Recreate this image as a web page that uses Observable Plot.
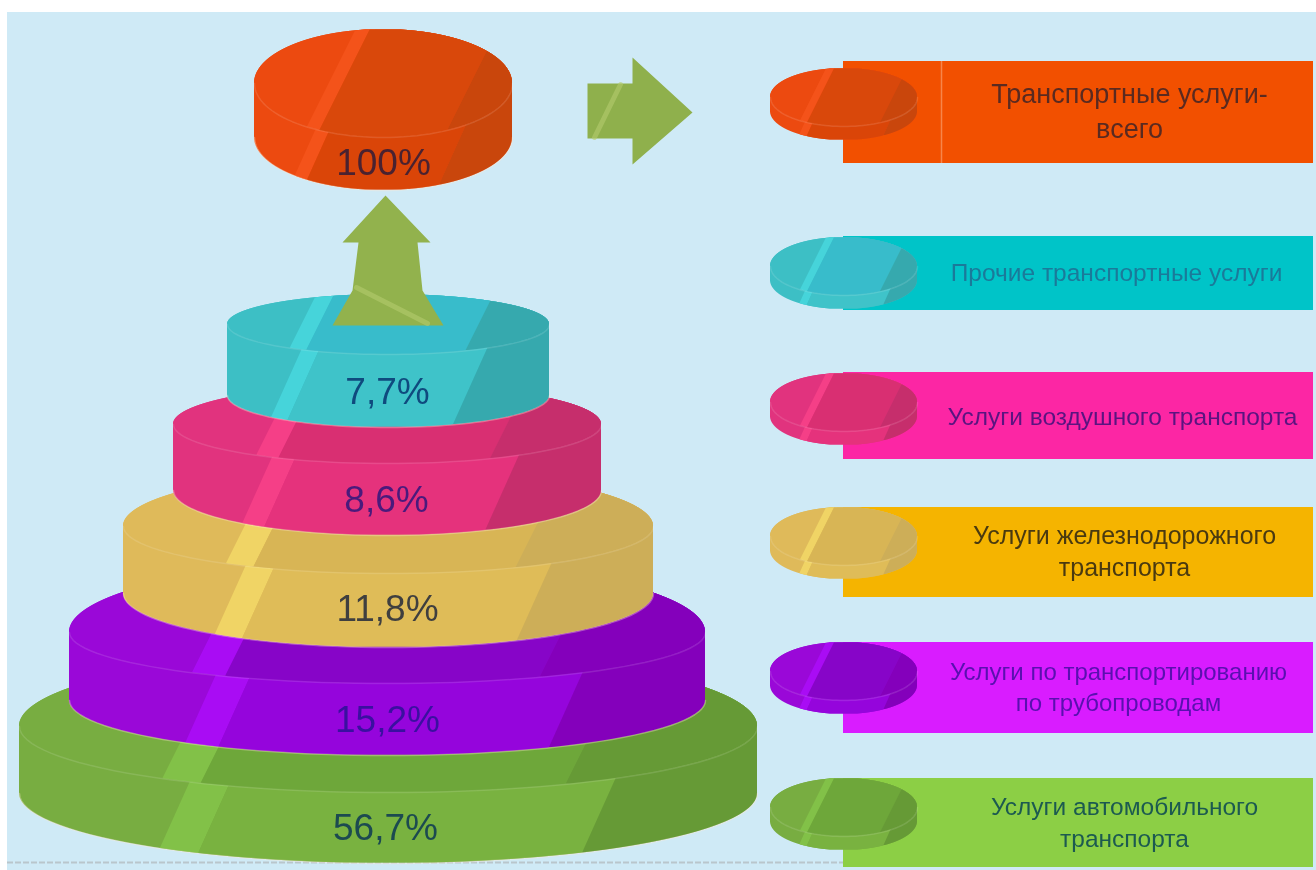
<!DOCTYPE html>
<html><head><meta charset="utf-8">
<script src="https://cdn.jsdelivr.net/npm/d3@7"></script>
<script src="https://cdn.jsdelivr.net/npm/@observablehq/plot@0.6"></script>
<style>html,body{margin:0;padding:0;background:#fff}svg{display:block;filter:blur(0.7px)}</style>
</head><body><div id="chart"></div>
<script>
// Data, in legend order
const categories = ["Транспортные услуги-\nвсего","Прочие транспортные услуги","Услуги воздушного транспорта","Услуги железнодорожного\nтранспорта","Услуги по транспортированию\nпо трубопроводам","Услуги автомобильного\nтранспорта"];
const values = [100, 7.7, 8.6, 11.8, 15.2, 56.7];
// Palette
const baseColors = ["#ec4a10","#3dbfc5","#e1337e","#dfba5a","#9a08d8","#78ad41"];
const lightColors = ["#f4531a","#46d4da","#f53f87","#f0d465","#a90cf4","#82c148"];
const faceColors = ["#d9480b","#38bccb","#d92f72","#d8b555","#8705c8","#6ea73a"];
const sideColors = ["#da4508","#3fc3c9","#e5327c","#dfbc58","#9505dc","#79b240"];
const shadeColors = ["#c9460c","#36a9ae","#c62e6c","#cdae58","#8400bb","#669a36"];
const barColors = ["#f25000","#00c4c8","#fc26a4","#f5b400","#d91cff","#8ccf45"];
const valueInk = ["#4a2230","#0f4a7e","#4a1a7c","#3f3f3f","#3a10a0","#1c4a50"];
const labelInk = ["#5a2a20","#1a7a9a","#5a1480","#4a3a10","#5a10b0","#1c5a50"];
// Tower layout
const towerCx = [383,388,387,388,387,388];
const towerRx = [129,161,214,265,318,369];
const faceCy = [83,324,424,526,632,726];
const faceUpRy = [54,30,40,56,72,76];
const faceRy = [54,30,39,47,51,66];
const sideCy = [137,395,490,593,700,793];
const sideRy = [53,32,45,54,55,70];
const valueY = [163,392,500,609,720,828];
const valueX = [383,387,386,387,387,385];
// Legend layout
const barTop = [61,236,372,507,642,778];
const barBottom = [163,310,459,597,733,867];
const barLeft = 843, barRight = 1313;
const chipTop = [68,237,373,507,642,778];
const chipCx = 843.5, chipRx = 73.5, chipRy = 29, chipDrop = 14;
const labelX = [1129,1116,1122,1124,1118,1124];
const labelY = [109,270,414,549,685,820];
const labelSize = [27,24.5,24.5,25,24,24.5];
// Arrows
const upArrowX = [385,430,417,422,443,332,352,358,342];
const upArrowY = [195,242,242,290,325,325,290,242,242];
const rightArrowX = [587,632,632,692,632,632,587];
const rightArrowY = [83,83,57,112,164,138,138];
const arrowGlintX = [620,594,356,427];
const arrowGlintY = [84,137,287,323];
// Stripe positions, as fractions of a tier's half-width at its rim
const faceStripes = [-0.63,-0.52,0.47];
const sideStripes = [-0.55,-0.44,0.60];

const areas = [], rims = [], hems = [];
let uid = 0;
function faceExtent(d,y){const t=(y-d.fc)/(y<d.fc?d.fu:d.fr);return Math.abs(t)>=1?0:d.rx*Math.sqrt(1-t*t);}
function hullExtent(d,y){
  if(y<d.fc) return faceExtent(d,y);
  if(y<=d.sc) return d.rx;
  const t=(y-d.sc)/d.sr;return Math.abs(t)>=1?0:d.rx*Math.sqrt(1-t*t);
}
function band(d,ext,y0,y1,l,r,slant,color){
  const id=uid++, rim=d.fc+d.fr;
  for(let y=y0;y<=y1;y+=0.5){
    const h=ext(d,y);
    const a=l==null?d.cx-h:Math.max(d.cx-h,d.cx+d.rx*l-slant*(y-rim));
    const b=r==null?d.cx+h:Math.min(d.cx+h,d.cx+d.rx*r-slant*(y-rim));
    if(b>a) areas.push({id,y,a,b,color});
  }
}
function disk(d,i,hem){
  const yt=d.fc-d.fu, yb=d.sc+d.sr, ym=d.fc+d.fr;
  band(d,hullExtent,yt,yb,null,null,0,baseColors[i]);
  band(d,hullExtent,yt,yb,sideStripes[0],sideStripes[1],0.45,lightColors[i]);
  band(d,hullExtent,yt,yb,sideStripes[1],sideStripes[2],0.45,sideColors[i]);
  band(d,hullExtent,yt,yb,sideStripes[2],null,0.45,shadeColors[i]);
  band(d,faceExtent,yt,ym,null,null,0,baseColors[i]);
  band(d,faceExtent,yt,ym,faceStripes[0],faceStripes[1],0.5,lightColors[i]);
  band(d,faceExtent,yt,ym,faceStripes[1],faceStripes[2],0.5,faceColors[i]);
  band(d,faceExtent,yt,ym,faceStripes[2],null,0.5,shadeColors[i]);
  const id=uid++;
  for(let k=0;k<=60;k++){
    const t=Math.PI*k/60;
    rims.push({id,x:d.cx+d.rx*Math.cos(t),y:d.fc+d.fr*Math.sin(t)});
    if(hem) hems.push({id,x:d.cx+d.rx*Math.cos(t),y:d.sc+d.sr*Math.sin(t)});
  }
}
categories.forEach((c,i)=>disk({cx:chipCx,rx:chipRx,fc:chipTop[i]+chipRy,fu:chipRy,fr:chipRy,sc:chipTop[i]+chipRy+chipDrop,sr:chipRy},i,false));
[5,4,3,2,1,0].forEach(i=>disk({cx:towerCx[i],rx:towerRx[i],fc:faceCy[i],fu:faceUpRy[i],fr:faceRy[i],sc:sideCy[i],sr:sideRy[i]},i,true));

const fmt = v => String(v).replace(".",",")+"%";
const upArrow = upArrowX.map((x,i)=>({x,y:upArrowY[i]}));
const rightArrow = rightArrowX.map((x,i)=>({x,y:rightArrowY[i]}));
const glints = [0,2].flatMap(g=>[0,1].map(k=>({g,x:arrowGlintX[g+k],y:arrowGlintY[g+k]})));
const idx = d3.range(categories.length);

const chart = Plot.plot({
  width:1316,height:870,margin:0,
  x:{domain:[0,1316],range:[0,1316],axis:null},
  y:{domain:[0,870],range:[0,870],axis:null},
  marks:[
    Plot.rect([0],{x1:()=>7,x2:()=>1316,y1:()=>12,y2:()=>870,fill:"#cfeaf6"}),
    Plot.ruleY([862],{x1:7,x2:845,stroke:"#b9c6cc",strokeWidth:2,strokeDasharray:"6,2"}),
    Plot.rect(idx,{x1:()=>barLeft,x2:()=>barRight,y1:i=>barTop[i],y2:i=>barBottom[i],fill:i=>barColors[i]}),
    Plot.ruleX([941],{y1:61,y2:163,stroke:"#f7854a",strokeWidth:1.5}),
    Plot.areaX(areas,{y:"y",x1:"a",x2:"b",z:"id",fill:"color",curve:"linear"}),
    Plot.line(rims,{x:"x",y:"y",z:"id",stroke:"#fff",strokeOpacity:0.12,strokeWidth:1.5}),
    Plot.line(hems,{x:"x",y:"y",z:"id",stroke:"#ffe8d0",strokeOpacity:0.35,strokeWidth:1.5}),
    Plot.line(upArrow,{x:"x",y:"y",fill:"#92b24d",stroke:"none"}),
    Plot.line(rightArrow,{x:"x",y:"y",fill:"#8fb04c",stroke:"none"}),
    Plot.line(glints,{x:"x",y:"y",z:"g",stroke:"#b4cb6e",strokeWidth:5,strokeOpacity:0.6}),
    Plot.text(idx,{x:i=>valueX[i],y:i=>valueY[i],text:i=>fmt(values[i]),fill:i=>valueInk[i],fontSize:37,fontFamily:"Liberation Sans",textAnchor:"middle",lineAnchor:"middle"}),
    Plot.text(idx,{x:i=>labelX[i],y:i=>labelY[i],text:i=>categories[i],fill:i=>labelInk[i],fontSize:i=>labelSize[i],lineHeight:1.3,fontFamily:"Liberation Sans",textAnchor:"middle",lineAnchor:"middle"})
  ]
});
document.getElementById("chart").append(chart);
</script></body></html>
